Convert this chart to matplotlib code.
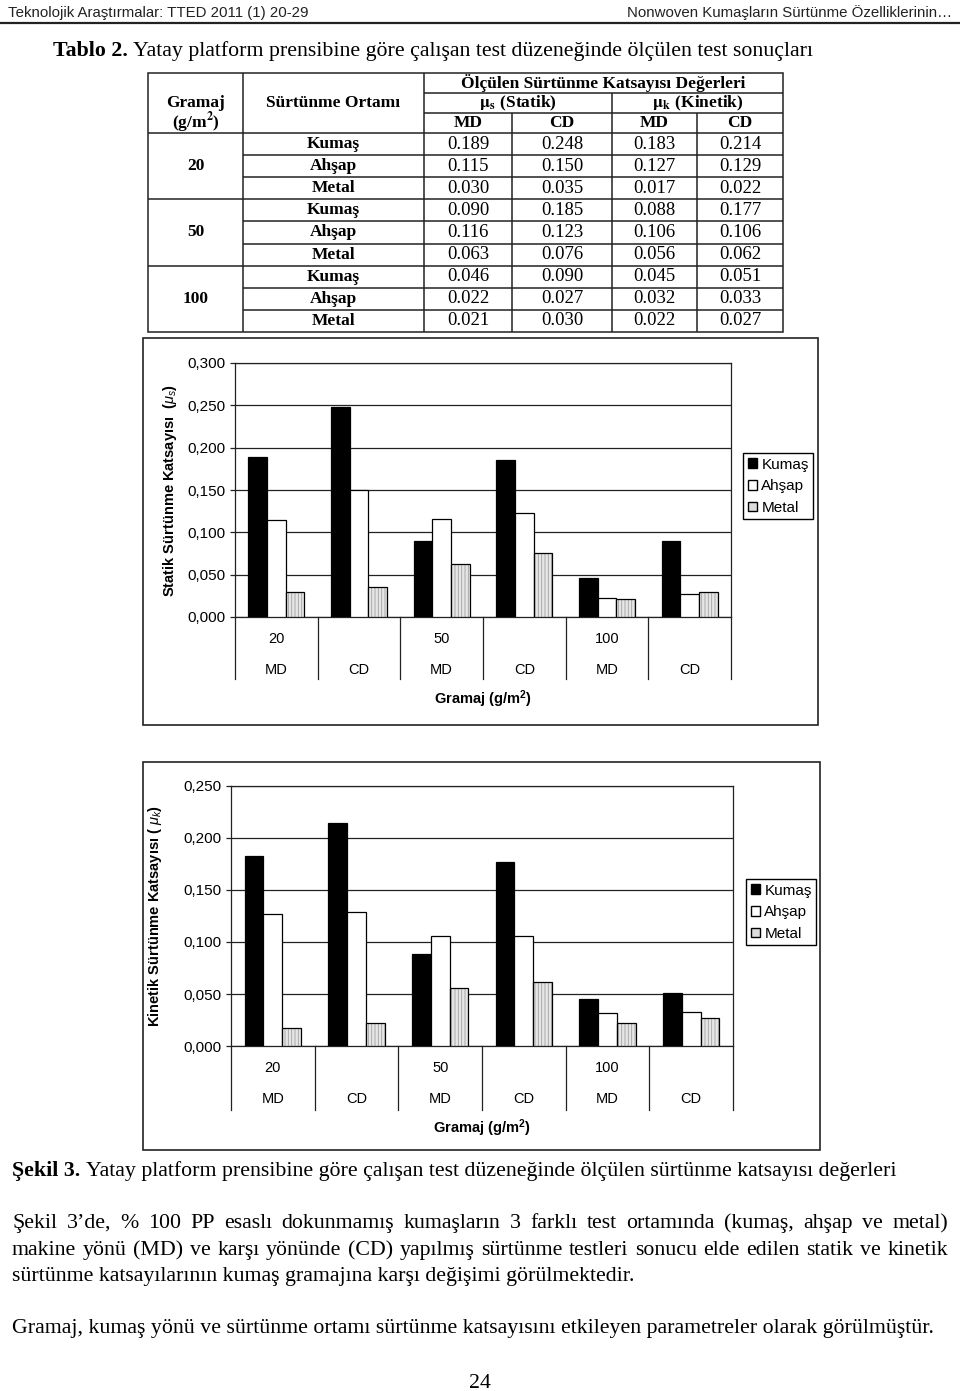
import matplotlib
matplotlib.use('Agg')
import matplotlib.pyplot as plt
import numpy as np
from matplotlib.patches import Rectangle, Patch
from matplotlib.ticker import FuncFormatter

# ── data (chart order: 20 MD, 20 CD, 50 MD, 50 CD, 100 MD, 100 CD) ─────────────
gramaj = ['20', '50', '100']
mediums = ['Kumaş', 'Ahşap', 'Metal']
directions = ['MD', 'CD', 'MD', 'CD', 'MD', 'CD']

statik_kumas = [0.189, 0.248, 0.090, 0.185, 0.046, 0.090]
statik_ahsap = [0.115, 0.150, 0.116, 0.123, 0.022, 0.027]
statik_metal = [0.030, 0.035, 0.063, 0.076, 0.021, 0.030]

kinetik_kumas = [0.183, 0.214, 0.088, 0.177, 0.045, 0.051]
kinetik_ahsap = [0.127, 0.129, 0.106, 0.106, 0.032, 0.033]
kinetik_metal = [0.017, 0.022, 0.056, 0.062, 0.022, 0.027]

statik = [statik_kumas, statik_ahsap, statik_metal]
kinetik = [kinetik_kumas, kinetik_ahsap, kinetik_metal]

plt.rcParams['mathtext.fontset'] = 'custom'
plt.rcParams['mathtext.rm'] = 'Liberation Sans'
plt.rcParams['mathtext.it'] = 'Liberation Sans:italic'
plt.rcParams['mathtext.bf'] = 'Liberation Sans:bold'
plt.rcParams['font.family'] = 'Liberation Sans'
plt.rcParams['hatch.linewidth'] = 0.6

W, H = 960, 1391
SERIF = 'Liberation Serif'
SANS = 'Liberation Sans'
LINE = '#222222'

fig = plt.figure(figsize=(W / 100, H / 100), dpi=100)
fig.patch.set_facecolor('white')
page = fig.add_axes([0, 0, 1, 1])
page.set_xlim(0, W)
page.set_ylim(H, 0)
page.axis('off')
r = fig.canvas.get_renderer()


def wpx(t):
    return t.get_window_extent(renderer=r).width


def space(size, family=SERIF):
    a = page.text(0, 0, 'x x', fontsize=size, family=family)
    b = page.text(0, 0, 'xx', fontsize=size, family=family)
    d = wpx(a) - wpx(b)
    a.remove()
    b.remove()
    return d


def runs(x, y, parts, size, family=SERIF):
    sp = space(size, family)
    for s, wt in parts:
        t = page.text(x, y, s, fontsize=size, fontweight=wt, family=family, va='baseline')
        x += wpx(t) + sp


def justify(y, line, x0, x1, size):
    words = line.split()
    ts = [page.text(0, y, w, fontsize=size, family=SERIF, va='baseline') for w in words]
    ws = [wpx(t) for t in ts]
    gap = (x1 - x0 - sum(ws)) / (len(words) - 1)
    x = x0
    for t, w in zip(ts, ws):
        t.set_x(x)
        x += w + gap


def hline(y, x0, x1, lw=1.1):
    page.plot([x0, x1], [y, y], color=LINE, lw=lw, solid_capstyle='butt')


def vline(x, y0, y1, lw=1.1):
    page.plot([x, x], [y0, y1], color=LINE, lw=lw, solid_capstyle='butt')


# ── page header ────────────────────────────────────────────────────────────────
probe = page.text(0, 0, 'Teknolojik Araştırmalar: TTED 2011 (1) 20-29', fontsize=10, family=SANS)
head = 10 * 300 / wpx(probe)
probe.remove()
page.text(8, 17, 'Teknolojik Araştırmalar: TTED 2011 (1) 20-29', fontsize=head,
          family=SANS, va='baseline', color='#222')
page.text(952, 17, 'Nonwoven Kumaşların Sürtünme Özelliklerinin…', fontsize=head,
          family=SANS, va='baseline', ha='right', color='#222')
hline(23, 0, W, lw=1.6)

last_line = ('Gramaj, kumaş yönü ve sürtünme ortamı sürtünme katsayısını '
             'etkileyen parametreler olarak görülmüştür.')
probe = page.text(0, 0, last_line, fontsize=14, family=SERIF)
body = 14 * 930 / wpx(probe)
probe.remove()

runs(53, 56, [('Tablo 2.', 'bold'),
              ('Yatay platform prensibine göre çalışan test düzeneğinde ölçülen test sonuçları',
               'normal')], body)

# ── table ──────────────────────────────────────────────────────────────────────
tl, tr, tt, tb = 148, 783, 73, 332
c1, c2, c_sk, c_md1, c_md2 = 243, 424, 612, 512, 697
row0 = 133
rh = (tb - row0) / 9

page.add_patch(Rectangle((tl, tt), tr - tl, tb - tt, fill=False, ec=LINE, lw=1.1))
vline(c1, tt, tb)
vline(c2, tt, tb)
vline(c_sk, 93, tb)
vline(c_md1, 113, tb)
vline(c_md2, 113, tb)
hline(93, c2, tr)
hline(113, c2, tr)
hline(row0, tl, tr)
for i in range(1, 9):
    x0 = tl if i % 3 == 0 else c1
    hline(row0 + i * rh, x0, tr)

bsize, vsize = 12.5, 13.5
bold = dict(fontsize=bsize, fontweight='bold', family=SERIF, ha='center', va='center',
            math_fontfamily='stix')
page.text((tl + c1) / 2, 103, 'Gramaj', **bold)
page.text((tl + c1) / 2, 123, r'(g/m$^\mathbf{2}$)', **bold)
page.text((c1 + c2) / 2, 103, 'Sürtünme Ortamı', **bold)
page.text((c2 + tr) / 2, 83, 'Ölçülen Sürtünme Katsayısı Değerleri', **bold)
page.text((c2 + c_sk) / 2, 103, r'$\mathbf{\mu_s}$ (Statik)', **bold)
page.text((c_sk + tr) / 2, 103, r'$\mathbf{\mu_k}$ (Kinetik)', **bold)
col_x = [(c2 + c_md1) / 2, (c_md1 + c_sk) / 2, (c_sk + c_md2) / 2, (c_md2 + tr) / 2]
for x, d in zip(col_x, ['MD', 'CD', 'MD', 'CD']):
    page.text(x, 123, d, **bold)

for g, gname in enumerate(gramaj):
    page.text((tl + c1) / 2, row0 + (3 * g + 1.5) * rh, gname, **bold)
    for m, mname in enumerate(mediums):
        y = row0 + (3 * g + m + 0.5) * rh
        page.text((c1 + c2) / 2, y, mname, **bold)
        vals = [statik[m][2 * g], statik[m][2 * g + 1], kinetik[m][2 * g], kinetik[m][2 * g + 1]]
        for x, v in zip(col_x, vals):
            page.text(x, y, f'{v:.3f}', fontsize=vsize, family=SERIF, ha='center', va='center')


# ── charts ─────────────────────────────────────────────────────────────────────
def chart(plot, frame, series, ymax, ylabel, ylab_x, leg_xy, div_len):
    l, t, rr, b = plot
    page.add_patch(Rectangle((frame[0], frame[1]), frame[2] - frame[0], frame[3] - frame[1],
                             fill=False, ec=LINE, lw=1.2))
    ax = fig.add_axes([l / W, 1 - b / H, (rr - l) / W, (b - t) / H])
    x = np.arange(6) + 0.5
    bw = 0.225
    k, a, m = series
    ax.bar(x - bw, k, bw, color='black', edgecolor='black', lw=0.9, zorder=3)
    ax.bar(x, a, bw, color='white', edgecolor='black', lw=0.9, zorder=3)
    ax.bar(x + bw, m, bw, color='#e6e6e6', edgecolor='#a0a0a0', lw=0, hatch='|||||', zorder=3)
    ax.bar(x + bw, m, bw, color='none', edgecolor='black', lw=0.9, zorder=4)

    ax.set_xlim(0, 6)
    ax.set_ylim(0, ymax)
    ax.set_xticks([])
    ax.set_yticks(np.arange(0, ymax + 0.001, 0.05))
    ax.yaxis.set_major_formatter(FuncFormatter(lambda v, p: f'{v:.3f}'.replace('.', ',')))
    ax.tick_params(axis='y', direction='out', length=3.6, width=0.9, pad=3.6,
                   labelsize=11, color=LINE)
    ax.yaxis.grid(True, color=LINE, lw=0.9)
    ax.set_axisbelow(True)
    for s in ax.spines.values():
        s.set_color(LINE)
        s.set_linewidth(0.9)

    xt = ax.get_xaxis_transform()
    for i in range(7):
        ax.plot([i, i], [0, -div_len / (b - t)], transform=xt, clip_on=False,
                color=LINE, lw=0.9)
    for i in range(6):
        if i % 2 == 0:
            ax.annotate(gramaj[i // 2], xy=(i + 0.5, 0), xycoords=xt, xytext=(0, -22),
                        textcoords='offset pixels', ha='center', va='center', fontsize=10.5)
        ax.annotate(directions[i], xy=(i + 0.5, 0), xycoords=xt, xytext=(0, -53),
                    textcoords='offset pixels', ha='center', va='center', fontsize=10.5)
    ax.annotate(r'Gramaj (g/m$^{\mathbf{2}}$)', xy=(3, 0), xycoords=xt, xytext=(0, -82),
                textcoords='offset pixels', ha='center', va='center', fontsize=10.5,
                fontweight='bold')

    page.text(ylab_x, (t + b) / 2, ylabel, rotation=90, fontsize=10.5, fontweight='bold',
              family=SANS, ha='center', va='center')

    handles = [Patch(fc='black', ec='black'), Patch(fc='white', ec='black'),
               Patch(fc='#dcdcdc', ec='black')]
    leg = ax.legend(handles, mediums, loc='upper left',
                    bbox_to_anchor=(leg_xy[0] / W, 1 - leg_xy[1] / H),
                    bbox_transform=fig.transFigure, frameon=True, fancybox=False,
                    edgecolor='black', framealpha=1, borderaxespad=0, borderpad=0.3,
                    handlelength=0.6, handleheight=0.6, handletextpad=0.3,
                    labelspacing=0.5, fontsize=11)
    leg.get_frame().set_linewidth(1.0)
    return ax


chart((235, 363, 731, 617), (143, 338, 818, 725), statik, 0.3,
      r'Statik Sürtünme Katsayısı  ($\mu_s$)', 170, (743, 453), 62)
chart((231, 786, 733, 1046), (143, 762, 820, 1150), kinetik, 0.25,
      r'Kinetik Sürtünme Katsayısı ( $\mu_k$)', 155, (746, 879), 64)

# ── caption and body text ──────────────────────────────────────────────────────
runs(12, 1176, [('Şekil 3.', 'bold'),
                ('Yatay platform prensibine göre çalışan test düzeneğinde ölçülen '
                 'sürtünme katsayısı değerleri', 'normal')], body)
justify(1228, 'Şekil 3’de, % 100 PP esaslı dokunmamış kumaşların 3 farklı test '
              'ortamında (kumaş, ahşap ve metal)', 12, 948, body)
justify(1255, 'makine yönü (MD) ve karşı yönünde (CD) yapılmış sürtünme testleri sonucu '
              'elde edilen statik ve kinetik', 12, 948, body)
page.text(12, 1281, 'sürtünme katsayılarının kumaş gramajına karşı değişimi görülmektedir.',
          fontsize=body, family=SERIF, va='baseline')
page.text(12, 1333, last_line, fontsize=body, family=SERIF, va='baseline')
page.text(480, 1388, '24', fontsize=body, family=SERIF, va='baseline', ha='center')

plt.savefig('out.png', dpi=100)
